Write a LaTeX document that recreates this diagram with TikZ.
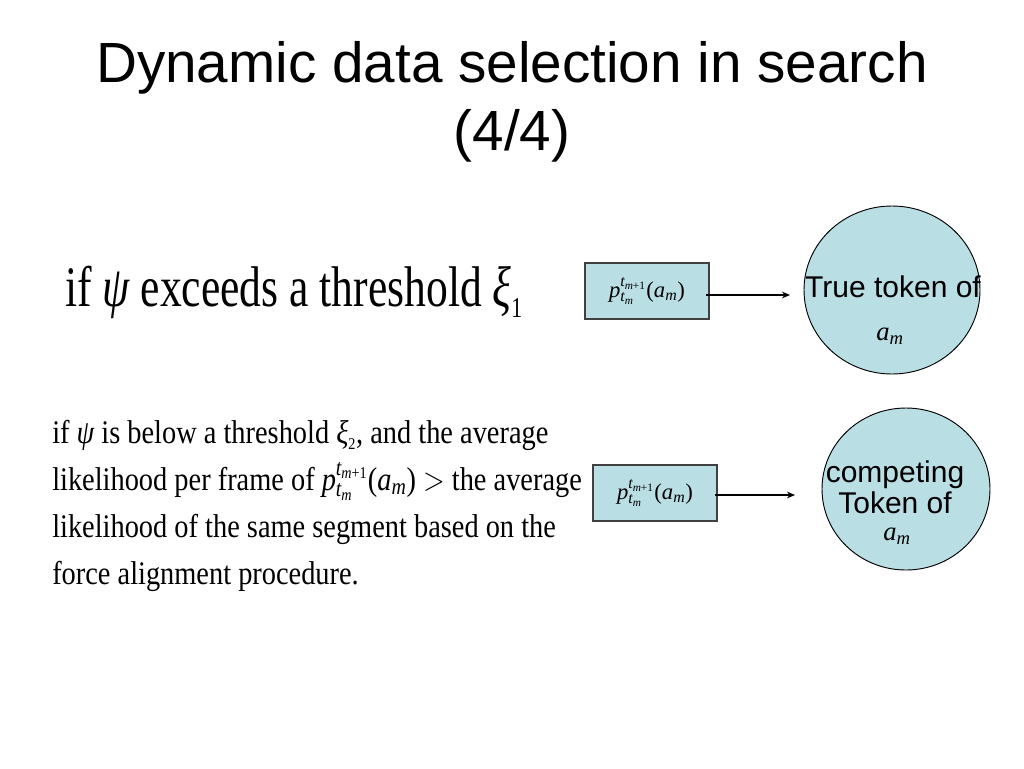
\documentclass[tikz,border=0pt]{standalone}
\usepackage{amsmath}
\usepackage{graphicx}
\usepackage{fontspec}
\setmainfont{Liberation Serif}
\newfontfamily\arialf{Liberation Sans}
\usetikzlibrary{arrows.meta,shapes.geometric}
\definecolor{boxblue}{RGB}{185,222,228}
\newcommand\mi[1]{\text{\itshape #1}}
\newcommand\pexpr{$\mi{p}^{\mi{t}_{\mi{m}\text{+1}}}_{\mi{t}_{\mi{m}}}\text{(}\mi{a}_{\mi{m}}\text{)}$}
\tikzset{
  pbox/.style={draw=black!75, line width=0.8pt, fill=boxblue, minimum width=124*0.75pt, minimum height=56*0.75pt, inner sep=0pt, font=\fontsize{17}{19}\selectfont},
  tokell/.style={ellipse, draw=black, line width=0.7pt, fill=boxblue, inner sep=0pt},
  conn/.style={-{Stealth[length=6pt,width=5pt]}, line width=0.8pt},
  sanslab/.style={font=\arialf\fontsize{22.5}{23.25}\selectfont, align=center, inner sep=0pt}
}
\begin{document}
\begin{tikzpicture}[x=0.75pt,y=-0.75pt]
\useasboundingbox (0,0) rectangle (1024,768);
% title
\node[font=\arialf\fontsize{42.5}{48}\selectfont, anchor=base] (t1) at (512,82) {Dynamic data selection in search};
\node[font=\arialf\fontsize{42.5}{48}\selectfont, anchor=base] (t2) at (512,150) {(4/4)};
% line 1
\node[font=\fontsize{43}{46}\selectfont, anchor=base west, inner sep=0pt] (c1) at (65,306) {\scalebox{0.76}[1]{if {\itshape ψ} exceeds a threshold $\mi{ξ}_{\scriptscriptstyle\text{1}}$}};
\node[pbox] (b1) at (647,291) {\pexpr};
\node[tokell, minimum width=176*0.75pt, minimum height=168*0.75pt] (e1) at (892,290) {};
\node[sanslab, anchor=base] (e1a) at (893,297) {True token of};
\node[font=\fontsize{20}{22}\selectfont, anchor=base] (e1b) at (890,340) {$\mi{a}_{\mi{m}}$};
\coordinate (a1s) at (706,295);
\coordinate (a1e) at (790,295);
\draw[conn] (a1s) -- (a1e);
% paragraph
\node[font=\fontsize{24.75}{35.25}\selectfont, anchor=base west, inner sep=0pt] (para) at (52,443) {\scalebox{0.86}[1]{\begin{tabular}[t]{@{}l@{}}if {\itshape ψ} is below a threshold $\mi{ξ}_{\scriptscriptstyle\text{2}}$, and the average\\
likelihood per frame of \pexpr{} $>$ the average\\
likelihood of the same segment based on the\\
force alignment procedure.\end{tabular}}};
\node[pbox] (b2) at (655,493) {\pexpr};
\node[tokell, minimum width=168*0.75pt, minimum height=162*0.75pt] (e2) at (906,489) {};
\node[sanslab, anchor=base] (e2a) at (895,513) {competing\\Token of};
\node[font=\fontsize{20}{22}\selectfont, anchor=base] (e2b) at (897,540) {$\mi{a}_{\mi{m}}$};
\coordinate (a2s) at (715,495);
\coordinate (a2e) at (795,495);
\draw[conn] (a2s) -- (a2e);
\end{tikzpicture}
\end{document}
